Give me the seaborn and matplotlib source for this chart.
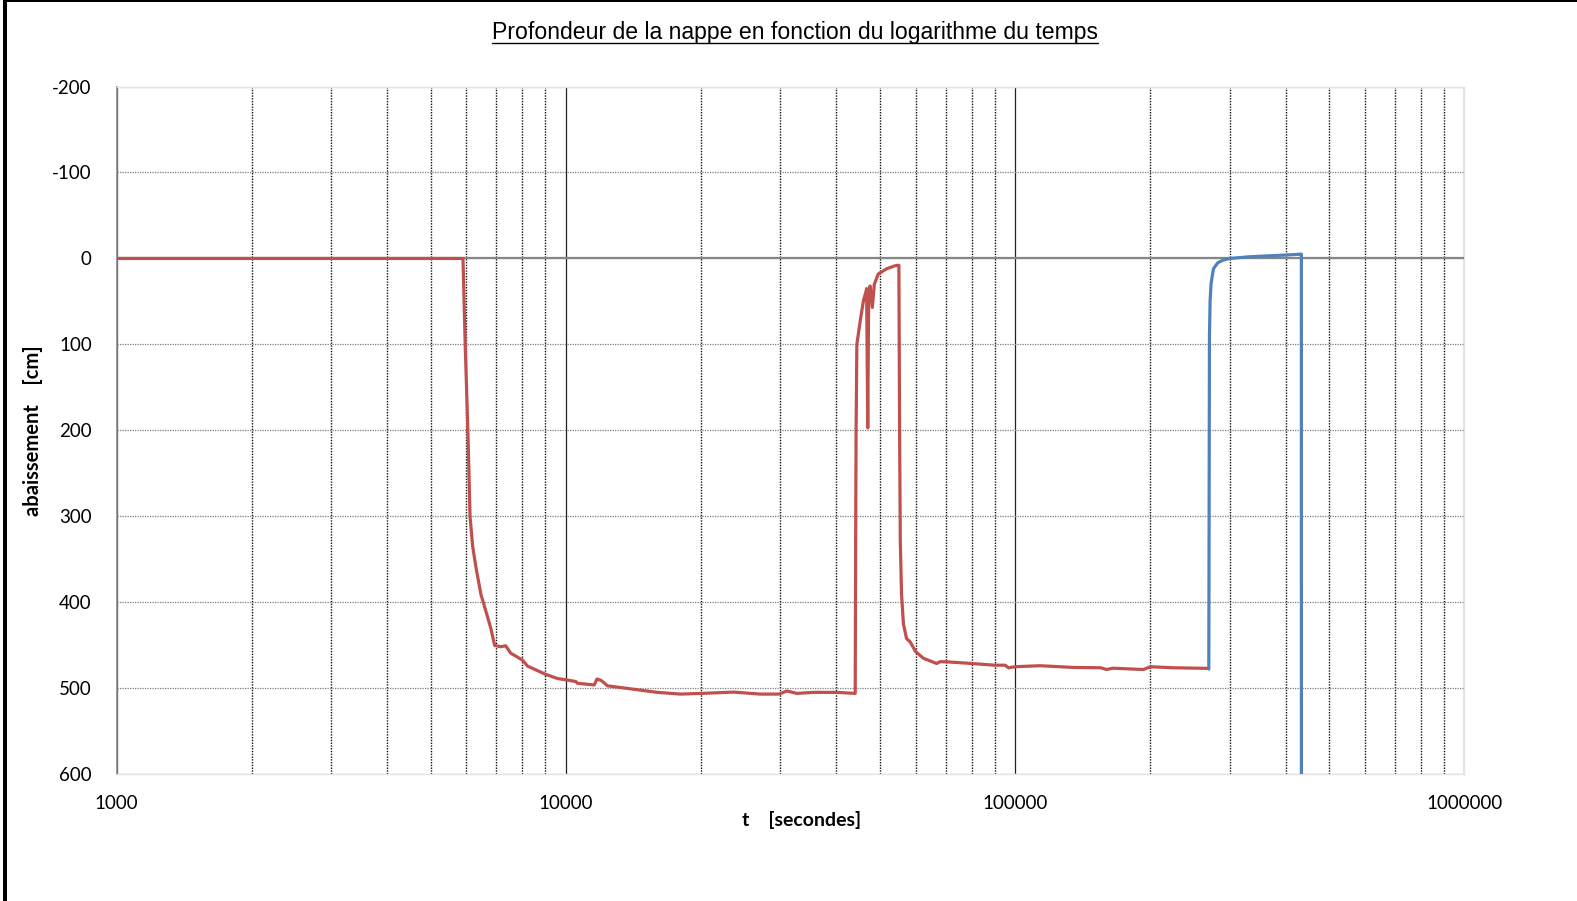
import matplotlib
matplotlib.use("Agg")
import matplotlib.pyplot as plt
import pandas as pd
import seaborn as sns
from matplotlib.lines import Line2D
from matplotlib.patches import Rectangle
from matplotlib.ticker import FixedLocator, MultipleLocator, FuncFormatter, NullFormatter, LogLocator

# pumping phase (red) : time [s] / drawdown [cm]
t_pompage = [1000, 3000, 5900, 5964, 6050, 6117, 6200, 6309, 6470, 6650, 6804, 6940, 7158,
             7343, 7535, 8000, 8210, 9000, 9574, 10000, 10524, 10600, 11558, 11730, 12000,
             12373, 13704, 15970, 18000, 20000, 23630, 27080, 29800, 31040, 32680, 35600,
             40000, 44050, 44150, 44250, 44420, 45180, 45950, 46580, 46700, 46970, 47200,
             47530, 48090, 48580, 49580, 51740, 53990, 54730, 55100, 55300, 55500, 55850,
             56400, 57300, 58390, 60000, 62490, 66870, 68000, 70000, 80000, 90000, 95000,
             96600, 100000, 113500, 134700, 155000, 159800, 165000, 193000, 200000, 225100,
             269500]
d_pompage = [0, 0, 0, 96, 201, 300, 335, 360, 391, 412, 430, 450, 451.6,
             450.4, 459, 467, 474, 483.5, 488.5, 490, 492, 494, 496, 489, 491,
             497, 500, 504.6, 506.6, 505.8, 504.3, 506.6, 506.6, 503, 505.8, 504.6,
             504.6, 505.8, 330, 200, 100, 73, 49, 38, 35, 197, 40,
             32, 57, 30, 18, 12, 8.5, 8, 8, 200, 329, 390,
             425, 442, 446, 457, 465, 471, 469, 469, 471, 473, 473,
             476, 474.8, 473.6, 475.6, 476, 478, 476.5, 478, 474.8, 476,
             476.7]

# recovery phase (blue)
t_remontee = [269800, 270700, 271600, 273000, 276300, 282500, 289900, 300000, 332500,
              400000, 433600, 433700]
d_remontee = [477.6, 90, 49, 28.6, 12, 5, 2, 0, -2, -4, -5, 900]

y_ticks = [-200, -100, 0, 100, 200, 300, 400, 500, 600]
x_ticks = [1000, 10000, 100000, 1000000]

W, H = 1577, 901
sns.set_theme(style="white")
plt.rcParams["axes.unicode_minus"] = False
plt.rcParams["font.family"] = ["Lato", "DejaVu Sans"]
plt.rcParams["text.color"] = "black"
plt.rcParams["axes.labelcolor"] = "black"

fig = plt.figure(figsize=(W / 100, H / 100), dpi=100)
ax = fig.add_axes([116.7 / W, 1 - 774.4 / H, (1464.4 - 116.7) / W, (774.4 - 86.5) / H])

df_p = pd.DataFrame({"t": t_pompage, "d": d_pompage})
df_r = pd.DataFrame({"t": t_remontee, "d": d_remontee})
sns.lineplot(data=df_p, x="t", y="d", ax=ax, color="#C0504D", lw=2.3,
             estimator=None, sort=False, zorder=4)
sns.lineplot(data=df_r, x="t", y="d", ax=ax, color="#4F81BD", lw=2.3,
             estimator=None, sort=False, zorder=4)

ax.set_xscale("log")
ax.set_xlim(1000, 1000000)
ax.set_ylim(600, -200)

ax.xaxis.set_major_locator(FixedLocator(x_ticks))
ax.xaxis.set_major_formatter(FuncFormatter(lambda v, p: "%d" % round(v)))
ax.xaxis.set_minor_locator(LogLocator(base=10, subs=range(2, 10)))
ax.xaxis.set_minor_formatter(NullFormatter())
ax.yaxis.set_major_locator(FixedLocator(y_ticks))
ax.yaxis.set_minor_locator(MultipleLocator(20))

ax.grid(True, which="major", axis="y", color="#7f7f7f", ls=(0, (1, 1)), lw=0.9)
ax.grid(True, which="major", axis="x", color="#222222", ls="-", lw=0.9)
ax.grid(True, which="minor", axis="x", color="#111111", ls=(0, (1, 1)), lw=1.0)
ax.axhline(0, color="#868686", lw=1.6, zorder=3)

ax.tick_params(axis="x", which="both", length=0, pad=15, labelsize=13.5, colors="black")
ax.tick_params(axis="y", which="both", direction="in", length=4, width=1,
               color="#868686", pad=18, labelsize=13.5, labelcolor="black")

for side in ["top", "right", "bottom"]:
    ax.spines[side].set_color("#e4e4e4")
    ax.spines[side].set_linewidth(1)
ax.spines["left"].set_color("#868686")
ax.spines["left"].set_linewidth(1.2)

ax.set_xlabel("t    [secondes]", fontsize=14, fontweight="bold")
ax.set_ylabel("abaissement    [cm]", fontsize=14.5, fontweight="bold")
ax.xaxis.set_label_coords(0.5085, -0.053)
ax.yaxis.set_label_coords(-0.0545, 0.5)

title = fig.text(0.504, 1 - 32 / H, "Profondeur de la nappe en fonction du logarithme du temps",
                 ha="center", va="center", fontsize=16.6, family="Liberation Sans",
                 color="black")

# underline the title
fig.canvas.draw()
bb = title.get_window_extent(renderer=fig.canvas.get_renderer())
y_line = (bb.y0 + 1) / H
fig.add_artist(Line2D([bb.x0 / W, bb.x1 / W], [y_line, y_line],
                      transform=fig.transFigure, color="black", lw=1))

# black frame (left and top edges)
fig.add_artist(Rectangle((3 / W, 0), 4 / W, 1, transform=fig.transFigure,
                         color="black", lw=0))
fig.add_artist(Rectangle((3 / W, 1 - 2 / H), 1 - 3 / W, 2 / H, transform=fig.transFigure,
                         color="black", lw=0))

fig.savefig("out.png", dpi=100)
